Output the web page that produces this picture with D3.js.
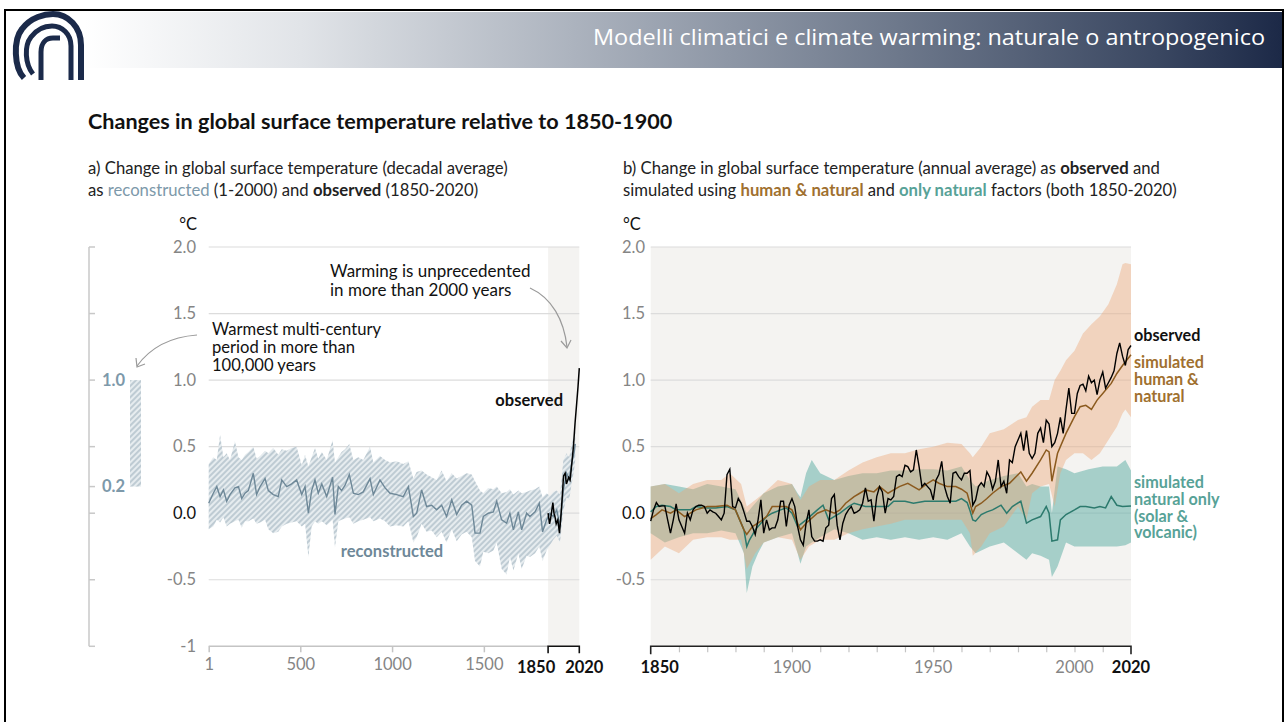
<!DOCTYPE html>
<html><head><meta charset="utf-8">
<script src="https://cdn.jsdelivr.net/npm/d3@7"></script>
<style>body{margin:0;background:#fff;} svg{display:block;font-family:Lato,'Noto Sans',sans-serif;}</style>
</head><body><svg id="c" width="1286" height="722"></svg>
<script>
// ---------------- DATA ----------------
const yTicks = [-1, -0.5, 0, 0.5, 1, 1.5, 2];
const yTickLabels = ["-1", "-0.5", "0.0", "0.5", "1.0", "1.5", "2.0"];
const xTicksA = [1, 500, 1000, 1500];
const xTicksB = [1900, 1950, 2000];
const warmestRange = [0.2, 1.0];

const reconYears = [1,26,45,63,81,99,117,144,163,181,199,217,244,262,281,308,326,353,380,399,426,453,480,508,526,544,562,580,598,617,644,676,689,707,725,744,767,789,816,843,880,898,934,962,989,1025,1061,1089,1116,1134,1161,1188,1216,1243,1270,1297,1325,1352,1379,1406,1434,1452,1479,1497,1524,1552,1570,1597,1624,1642,1661,1688,1706,1733,1751,1779,1802,1820,1842,1860,1878,1897,1915,1933,1951,1965,1978,1991,1998];
const reconMedian = [0.075,0.15,0.2,0.125,0.175,0.09,0.14,0.19,0.2,0.11,0.15,0.17,0.3,0.14,0.2,0.26,0.17,0.14,0.125,0.25,0.2,0.22,0.25,0.14,0.2,0.0,0.17,0.25,0.15,0.22,0.125,0.27,-0.01,0.2,0.17,0.21,0.29,0.15,0.14,0.16,0.26,0.14,0.25,0.19,0.15,0.14,0.125,0.2,-0.025,0.0,0.175,0.05,0.06,0.025,0.06,-0.025,0.1,-0.01,0.06,0.09,0.06,-0.15,-0.15,-0.025,0.0,0.01,0.09,-0.05,-0.075,0.0,-0.125,0.01,-0.125,0.0,-0.025,0.01,0.075,-0.14,-0.05,0.0,-0.025,0.025,-0.1,0.175,0.3,0.25,0.375,0.45,0.52];
const reconUpper = [0.37,0.42,0.40,0.59,0.42,0.45,0.40,0.54,0.42,0.40,0.44,0.46,0.50,0.41,0.43,0.47,0.45,0.49,0.44,0.48,0.47,0.49,0.50,0.36,0.44,0.35,0.42,0.49,0.41,0.46,0.40,0.55,0.38,0.42,0.46,0.48,0.52,0.40,0.42,0.40,0.50,0.38,0.43,0.40,0.38,0.39,0.37,0.39,0.26,0.31,0.32,0.29,0.27,0.25,0.32,0.24,0.30,0.26,0.28,0.30,0.29,0.24,0.17,0.15,0.19,0.18,0.20,0.15,0.16,0.18,0.14,0.17,0.15,0.16,0.17,0.18,0.20,0.12,0.15,0.13,0.16,0.17,0.14,0.40,0.45,0.42,0.52,0.58,0.62];
const reconLower = [-0.12,-0.10,-0.05,-0.07,-0.03,-0.10,-0.08,-0.06,-0.05,-0.11,-0.06,-0.06,-0.04,-0.08,-0.07,-0.05,-0.12,-0.15,-0.14,-0.10,-0.08,-0.07,-0.06,-0.10,-0.08,-0.33,-0.10,-0.06,-0.08,-0.06,-0.09,-0.05,-0.26,-0.06,-0.05,-0.04,-0.03,-0.08,-0.06,-0.05,-0.03,-0.06,-0.04,-0.06,-0.10,-0.09,-0.10,-0.06,-0.22,-0.18,-0.08,-0.14,-0.13,-0.18,-0.14,-0.22,-0.12,-0.21,-0.16,-0.14,-0.18,-0.36,-0.40,-0.29,-0.30,-0.28,-0.22,-0.42,-0.46,-0.33,-0.43,-0.30,-0.42,-0.32,-0.33,-0.30,-0.25,-0.36,-0.28,-0.24,-0.20,-0.17,-0.22,0.02,0.12,0.10,0.22,0.32,0.40];

const obsAYears = [1850,1858,1866,1876,1882,1888,1894,1903,1912,1920,1927,1934,1943,1950,1955,1962,1970,1979,1988,1997,2006,2013,2020];
const obsAValues = [0.0,-0.08,-0.02,0.08,0.0,-0.03,-0.08,-0.05,-0.15,-0.02,0.12,0.28,0.3,0.22,0.24,0.27,0.25,0.37,0.5,0.68,0.83,0.95,1.09];

const obsBStart = 1850;
const obsBValues = [-0.06,0.025,0.08,0.05,0.055,0.055,-0.05,-0.15,-0.05,0.07,
-0.05,-0.1,-0.15,0.0,-0.05,0.025,0.05,0.06,0.06,0.05,
0.0,0.025,0.01,0.0,-0.025,-0.05,0.0,0.29,0.33,0.05,
0.04,0.11,0.075,0.01,-0.06,-0.06,-0.1,-0.16,-0.05,0.1,
-0.15,-0.05,-0.125,-0.11,-0.11,-0.05,0.09,0.09,-0.1,0.06,
0.11,0.05,-0.1,-0.2,-0.24,-0.075,0.025,-0.175,-0.21,-0.21,
-0.2,-0.21,-0.11,-0.09,0.11,0.14,-0.09,-0.2,-0.075,-0.01,
0.025,0.05,0.0,0.01,0.025,0.075,0.19,0.09,0.1,-0.06,
0.125,0.2,0.16,0.0,0.11,0.1,0.125,0.275,0.29,0.275,
0.36,0.35,0.31,0.325,0.475,0.35,0.2,0.225,0.2,0.175,
0.1,0.25,0.29,0.39,0.2,0.125,0.075,0.3,0.31,0.275,
0.25,0.3,0.3,0.32,0.06,0.1,0.2,0.23,0.2,0.31,
0.27,0.18,0.24,0.4,0.2,0.24,0.15,0.4,0.38,0.5,
0.55,0.6,0.47,0.62,0.45,0.41,0.45,0.6,0.64,0.53,
0.7,0.67,0.5,0.53,0.6,0.72,0.6,0.78,0.94,0.75,
0.75,0.9,0.96,0.97,0.92,1.03,0.98,1.0,0.89,1.0,
1.06,0.94,0.98,1.02,1.07,1.2,1.28,1.18,1.11,1.23,
1.26];

const hnYears = [1850,1852,1854,1857,1859,1862,1864,1866,1870,1873,1877,1880,1883,1884,1886,1889,1891,1893,1896,1898,1900,1903,1905,1909,1912,1915,1917,1919,1922,1924,1926,1929,1931,1934,1936,1938,1941,1943,1945,1948,1950,1952,1955,1958,1960,1962,1963,1964,1965,1967,1969,1971,1974,1977,1981,1983,1985,1988,1990,1991,1992,1994,1997,2000,2002,2004,2006,2008,2010,2013,2015,2017,2020];
const hnMedian = [-0.04,-0.01,0.025,0.0,0.025,-0.025,0.0,0.025,0.05,0.05,0.06,0.025,-0.125,-0.16,-0.1,-0.06,-0.025,0.05,0.05,0.05,0.025,-0.125,-0.075,0.0,0.025,0.0,0.025,0.075,0.125,0.15,0.175,0.16,0.2,0.15,0.175,0.2,0.225,0.2,0.175,0.225,0.25,0.225,0.2,0.2,0.18,0.15,0.075,0.0,0.05,0.075,0.11,0.15,0.2,0.225,0.31,0.24,0.3,0.4,0.475,0.46,0.24,0.45,0.6,0.725,0.8,0.81,0.78,0.85,0.9,0.975,1.05,1.11,1.19];

const natYears = [1850,1852,1854,1857,1859,1864,1866,1870,1873,1877,1880,1883,1884,1885,1887,1889,1891,1893,1896,1898,1900,1902,1905,1909,1911,1913,1917,1920,1922,1926,1930,1934,1936,1940,1943,1947,1950,1954,1958,1960,1962,1963,1964,1965,1967,1969,1971,1974,1976,1978,1981,1983,1985,1988,1990,1991,1992,1994,1995,1997,2000,2002,2004,2007,2009,2011,2013,2015,2017,2020];
const natMedian = [0.01,0.05,0.06,0.05,0.025,0.025,0.05,0.04,0.04,0.05,0.025,-0.125,-0.25,-0.2,-0.125,-0.075,-0.025,0.0,0.025,0.04,0.0,-0.1,-0.05,0.025,0.06,-0.05,0.0,0.05,0.075,0.05,0.05,0.05,0.09,0.09,0.075,0.09,0.09,0.09,0.09,0.11,0.08,0.02,-0.05,-0.06,-0.01,0.01,0.025,0.06,0.0,0.05,0.09,-0.075,-0.05,-0.025,0.05,0.0,-0.21,-0.2,-0.05,-0.01,0.025,0.05,0.05,0.04,0.05,0.04,0.125,0.06,0.05,0.055];

const hnBandYears = [1850,1855,1860,1865,1870,1875,1878,1882,1884,1887,1890,1895,1900,1903,1906,1910,1915,1920,1925,1930,1935,1940,1945,1950,1955,1960,1963,1964,1967,1970,1975,1980,1983,1985,1988,1991,1993,1995,1997,2000,2003,2006,2009,2012,2015,2017,2018,2020];
const hnUpper = [0.2,0.22,0.15,0.22,0.25,0.25,0.3,0.22,0.05,0.1,0.15,0.25,0.22,0.1,0.2,0.25,0.25,0.32,0.38,0.42,0.45,0.45,0.48,0.5,0.53,0.52,0.45,0.42,0.5,0.6,0.63,0.7,0.72,0.8,0.85,0.85,1.0,1.07,1.15,1.22,1.35,1.42,1.48,1.57,1.72,1.87,1.88,1.87];
const hnLower = [-0.35,-0.25,-0.3,-0.2,-0.18,-0.18,-0.2,-0.2,-0.42,-0.3,-0.22,-0.18,-0.2,-0.35,-0.25,-0.2,-0.2,-0.15,-0.12,-0.1,-0.08,-0.05,-0.05,-0.05,-0.05,-0.05,-0.15,-0.32,-0.25,-0.15,-0.1,0.05,-0.05,0.15,0.2,0.22,0.05,0.3,0.4,0.45,0.45,0.4,0.45,0.55,0.65,0.75,0.78,0.72];

const natBandYears = [1850,1855,1860,1865,1870,1875,1880,1883,1884,1886,1888,1890,1895,1900,1902,1903,1905,1907,1910,1915,1920,1925,1930,1935,1940,1945,1950,1955,1960,1963,1965,1970,1975,1980,1983,1985,1988,1991,1992,1994,1997,2000,2005,2010,2015,2018,2020];
const natUpper = [0.2,0.22,0.2,0.18,0.22,0.2,0.18,0.05,0.0,0.05,0.1,0.15,0.2,0.22,0.15,0.12,0.3,0.4,0.3,0.25,0.28,0.3,0.3,0.32,0.32,0.33,0.33,0.32,0.35,0.25,0.2,0.25,0.28,0.3,0.2,0.22,0.2,0.2,0.0,0.35,0.33,0.3,0.33,0.35,0.35,0.4,0.32];
const natLower = [-0.15,-0.22,-0.18,-0.15,-0.15,-0.13,-0.15,-0.3,-0.6,-0.4,-0.3,-0.22,-0.18,-0.15,-0.3,-0.38,-0.25,-0.22,-0.18,-0.12,-0.15,-0.2,-0.18,-0.2,-0.18,-0.2,-0.18,-0.2,-0.15,-0.25,-0.3,-0.25,-0.22,-0.3,-0.35,-0.3,-0.32,-0.35,-0.48,-0.4,-0.22,-0.25,-0.25,-0.25,-0.25,-0.24,-0.22];

// ---------------- STYLE ----------------
const C = {
  recon: "#6e8898", reconText: "#7d99aa", hatchBg: "#e6ecef", hatchLine: "#b4c3cc",
  brown: "#8b5a1e", brownText: "#a0702f", teal: "#2c7a6d", tealText: "#57a297",
  peach: "rgba(236,168,118,0.42)", tealBand: "rgba(88,172,162,0.5)",
  grid: "#dcdcdc", tick: "#858585", plotBg: "#f4f3f1"
};

const svg = d3.select("#c");
const defs = svg.append("defs");

// header gradient
const grad = defs.append("linearGradient").attr("id", "hdr").attr("x1", 0).attr("x2", 1).attr("y1", 0).attr("y2", 0);
[[0, "#ffffff"], [0.06, "#ffffff"], [0.23, "#e1e4e8"], [0.5, "#9ea6b3"], [0.7, "#6d788b"], [0.9, "#3b4862"], [1, "#1c2947"]]
  .forEach(([o, c]) => grad.append("stop").attr("offset", o).attr("stop-color", c));

// hatch pattern
const pat = defs.append("pattern").attr("id", "hatch").attr("patternUnits", "userSpaceOnUse")
  .attr("width", 4).attr("height", 4).attr("patternTransform", "rotate(45)");
pat.append("rect").attr("width", 4).attr("height", 4).attr("fill", C.hatchBg);
pat.append("line").attr("x1", 1).attr("x2", 1).attr("y1", 0).attr("y2", 4).attr("stroke", C.hatchLine).attr("stroke-width", 1.6);

// frame and header
svg.append("rect").attr("x", 8).attr("y", 12).attr("width", 1274).attr("height", 56).attr("fill", "url(#hdr)");
svg.append("path").attr("d", "M5,740 V10 H1283 V740").attr("fill", "none").attr("stroke", "#000").attr("stroke-width", 2);

// logo
const logo = svg.append("g").attr("fill", "none").attr("stroke", "#1b2a4a").attr("stroke-linecap", "butt");
logo.append("path").attr("d", "M24,78 C14,68 13,40 22,29 C31,17 45,14 53,14 C68,14 81,27 81,45 L81,80").attr("stroke-width", 6);
logo.append("path").attr("d", "M33,74 C25,64 24,46 31,37 C37,29 45,26 52,26 C62,26 71,34 71,46 L71,80").attr("stroke-width", 5);
logo.append("path").attr("d", "M41,80 L41,52 C41,43 46,38 53,38 L60,38").attr("stroke-width", 5);

svg.append("text").attr("x", 1265).attr("y", 45).attr("text-anchor", "end")
  .attr("font-family", "'Open Sans','Noto Sans',sans-serif").attr("font-size", 22.5).attr("fill", "#fff")
  .attr("textLength", 672).attr("lengthAdjust", "spacingAndGlyphs")
  .text("Modelli climatici e climate warming: naturale o antropogenico");

// titles
svg.append("text").attr("x", 88).attr("y", 129).attr("font-size", 21.6).attr("font-weight", 700).attr("fill", "#111")
  .text("Changes in global surface temperature relative to 1850-1900");

function rich(x, y, parts) {
  const t = svg.append("text").attr("x", x).attr("y", y).attr("font-size", 16.7).attr("fill", "#222");
  parts.forEach(p => {
    const s = t.append("tspan").text(p[0]);
    if (p[1]) s.attr("fill", p[1]);
    if (p[2]) s.attr("font-weight", p[2]);
  });
  return t;
}
rich(88, 174, [["a) Change in global surface temperature (decadal average)"]]);
rich(88, 196, [["as "], ["reconstructed", C.reconText], [" (1-2000) and "], ["observed", null, 700], [" (1850-2020)"]]);
rich(623, 174, [["b) Change in global surface temperature (annual average) as "], ["observed", null, 700], [" and"]]);
rich(623, 196, [["simulated using "], ["human & natural", C.brownText, 700], [" and "], ["only natural", C.tealText, 700], [" factors (both 1850-2020)"]]);

// ---------------- SCALES ----------------
const y = d3.scaleLinear().domain([-1, 2]).range([646.3, 247]);
const xa = d3.scaleLinear().domain([1, 2020]).range([208.7, 579.3]);
const xb = d3.scaleLinear().domain([1850, 2020]).range([650.7, 1131]);

// ---------------- PANEL A ----------------
const pa = svg.append("g");
pa.append("rect").attr("x", xa(1850)).attr("y", y(2)).attr("width", xa(2020) - xa(1850)).attr("height", y(-1) - y(2)).attr("fill", C.plotBg);
pa.selectAll(".ga").data(yTicks.filter(d => d > -1)).enter().append("line")
  .attr("x1", xa(1)).attr("x2", xa(2020)).attr("y1", d => y(d)).attr("y2", d => y(d)).attr("stroke", C.grid).attr("stroke-width", 1.2);
pa.selectAll(".la").data(yTicks).enter().append("text")
  .attr("x", 196).attr("y", d => y(d) + 5.5).attr("text-anchor", "end").attr("font-size", 16.5)
  .attr("fill", d => d === 0 ? "#111" : C.tick).text((d, i) => yTickLabels[i]);
pa.append("text").attr("x", 197).attr("y", 230).attr("text-anchor", "end").attr("font-size", 16.5).attr("fill", "#111").text("°C");

const recon = reconYears.map((yr, i) => ({ yr, m: reconMedian[i], hi: reconUpper[i], lo: reconLower[i] }));
pa.append("path").datum(recon).attr("fill", "url(#hatch)")
  .attr("d", d3.area().x(d => xa(d.yr)).y0(d => y(d.lo)).y1(d => y(d.hi)));
pa.append("path").datum(recon).attr("fill", "none").attr("stroke", C.recon).attr("stroke-width", 1.4)
  .attr("d", d3.line().x(d => xa(d.yr)).y(d => y(d.m)));
const obsA = obsAYears.map((yr, i) => ({ yr, v: obsAValues[i] }));
pa.append("path").datum(obsA).attr("fill", "none").attr("stroke", "#000").attr("stroke-width", 1.5)
  .attr("d", d3.line().x(d => xa(d.yr)).y(d => y(d.v)));

// x axis panel a
pa.append("line").attr("x1", xa(1)).attr("x2", xa(1850)).attr("y1", y(-1)).attr("y2", y(-1)).attr("stroke", "#c4c4c4").attr("stroke-width", 1.5);
const axA = pa.append("g").attr("transform", `translate(0,${y(-1)})`)
  .call(d3.axisBottom(xa).tickValues(xTicksA).tickSize(6).tickPadding(6).tickFormat(d3.format("d")));
axA.select(".domain").remove();
axA.selectAll("line").attr("stroke", "#c4c4c4").attr("stroke-width", 1.5);
axA.selectAll("text").attr("font-family", "Lato").attr("font-size", 16.5).attr("fill", C.tick);
pa.append("path").attr("d", `M${xa(1850)},${y(-1) + 7} V${y(-1)} H${xa(2020)} V${y(-1) + 7}`)
  .attr("fill", "none").attr("stroke", "#111").attr("stroke-width", 1.6);
pa.append("text").attr("x", xa(1850) - 12).attr("y", y(-1) + 27).attr("text-anchor", "middle").attr("font-size", 16.5).attr("font-weight", 700).attr("fill", "#111").text("1850");
pa.append("text").attr("x", xa(2020) + 5).attr("y", y(-1) + 27).attr("text-anchor", "middle").attr("font-size", 16.5).attr("font-weight", 700).attr("fill", "#111").text("2020");

// mini axis (warmest multi-century period)
const miniX = 89;
pa.append("line").attr("x1", miniX).attr("x2", miniX).attr("y1", y(2)).attr("y2", y(-1)).attr("stroke", "#c8c8c8").attr("stroke-width", 1.5);
pa.selectAll(".mt").data([-1, -0.5, 0, 0.2, 0.5, 1, 1.5, 2]).enter().append("line")
  .attr("x1", miniX).attr("x2", miniX + 6).attr("y1", d => y(d)).attr("y2", d => y(d)).attr("stroke", "#c8c8c8").attr("stroke-width", 1.5);
pa.append("rect").attr("x", 130).attr("width", 11).attr("y", y(warmestRange[1])).attr("height", y(warmestRange[0]) - y(warmestRange[1])).attr("fill", "url(#hatch)");
pa.selectAll(".ml").data(warmestRange).enter().append("text")
  .attr("x", 125).attr("y", d => y(d) + 5.5).attr("text-anchor", "end").attr("font-size", 16.5).attr("font-weight", 700)
  .attr("fill", C.reconText).text(d => d.toFixed(1));

// annotations
["Warmest multi-century", "period in more than", "100,000 years"].forEach((s, i) =>
  pa.append("text").attr("font-size", 16.6).attr("fill", "#111").attr("x", 212).attr("y", 335 + i * 18.2).text(s));
["Warming is unprecedented", "in more than 2000 years"].forEach((s, i) =>
  pa.append("text").attr("font-size", 17).attr("fill", "#111").attr("x", 330).attr("y", 277 + i * 19).text(s));
function arrow(d, dir) {
  pa.append("path").attr("d", d).attr("fill", "none").attr("stroke", "#9a9a9a").attr("stroke-width", 1.2);
  pa.append("path").attr("d", dir).attr("fill", "none").attr("stroke", "#9a9a9a").attr("stroke-width", 1.2);
}
arrow("M197,335 C170,337 150,348 137,366", "M136,358 L137,367 L145,364");
arrow("M530,288 C552,298 564,320 567,347", "M561,341 L567,348 L571,340");
pa.append("text").attr("x", 563).attr("y", 406).attr("text-anchor", "end").attr("font-size", 16.5).attr("font-weight", 700).attr("fill", "#111").text("observed");
pa.append("text").attr("x", 392).attr("y", 557).attr("text-anchor", "middle").attr("font-size", 16.5).attr("font-weight", 700).attr("fill", C.recon).text("reconstructed");

// ---------------- PANEL B ----------------
const pb = svg.append("g");
pb.append("rect").attr("x", xb(1850)).attr("y", y(2)).attr("width", xb(2020) - xb(1850)).attr("height", y(-1) - y(2)).attr("fill", C.plotBg);
pb.selectAll(".gb").data(yTicks.filter(d => d > -1)).enter().append("line")
  .attr("x1", xb(1850)).attr("x2", xb(2020)).attr("y1", d => y(d)).attr("y2", d => y(d)).attr("stroke", C.grid).attr("stroke-width", 1.2);
pb.selectAll(".lb").data(yTicks.filter(d => d > -1)).enter().append("text")
  .attr("x", 645).attr("y", d => y(d) + 5.5).attr("text-anchor", "end").attr("font-size", 16.5)
  .attr("fill", d => d === 0 ? "#111" : C.tick).text(d => yTickLabels[yTicks.indexOf(d)]);
pb.append("text").attr("x", 623).attr("y", 230).attr("font-size", 16.5).attr("fill", "#111").text("°C");

const natBand = natBandYears.map((yr, i) => ({ yr, hi: natUpper[i], lo: natLower[i] }));
const hnBand = hnBandYears.map((yr, i) => ({ yr, hi: hnUpper[i], lo: hnLower[i] }));
const band = d3.area().x(d => xb(d.yr)).y0(d => y(d.lo)).y1(d => y(d.hi));
pb.append("path").datum(natBand).attr("fill", C.tealBand).attr("d", band);
pb.append("path").datum(hnBand).attr("fill", C.peach).attr("d", band);

const nat = natYears.map((yr, i) => ({ yr, v: natMedian[i] }));
const hn = hnYears.map((yr, i) => ({ yr, v: hnMedian[i] }));
const obsB = obsBValues.map((v, i) => ({ yr: obsBStart + i, v }));
const ln = d3.line().x(d => xb(d.yr)).y(d => y(d.v));
pb.append("path").datum(nat).attr("fill", "none").attr("stroke", C.teal).attr("stroke-width", 1.5).attr("d", ln);
pb.append("path").datum(hn).attr("fill", "none").attr("stroke", C.brown).attr("stroke-width", 1.5).attr("d", ln);
pb.append("path").datum(obsB).attr("fill", "none").attr("stroke", "#000").attr("stroke-width", 1.4).attr("d", ln);

// x axis panel b
const axB = pb.append("g").attr("transform", `translate(0,${y(-1)})`)
  .call(d3.axisBottom(xb).tickValues(d3.range(1860, 2020, 10)).tickSize(6).tickFormat(""));
axB.select(".domain").remove();
axB.selectAll("line").attr("stroke", "#c4c4c4").attr("stroke-width", 1.2);
pb.append("path").attr("d", `M${xb(1850)},${y(-1) + 8} V${y(-1)} H${xb(2020)} V${y(-1) + 8}`)
  .attr("fill", "none").attr("stroke", "#222").attr("stroke-width", 1.6);
pb.selectAll(".xl").data(xTicksB).enter().append("text")
  .attr("x", d => xb(d)).attr("y", y(-1) + 27).attr("text-anchor", "middle").attr("font-size", 16.5).attr("fill", C.tick).text(d => d);
pb.append("text").attr("x", xb(1850) + 9).attr("y", y(-1) + 27).attr("text-anchor", "middle").attr("font-size", 16.5).attr("font-weight", 700).attr("fill", "#111").text("1850");
pb.append("text").attr("x", xb(2020)).attr("y", y(-1) + 27).attr("text-anchor", "middle").attr("font-size", 16.5).attr("font-weight", 700).attr("fill", "#111").text("2020");

// right labels
function block(lines, y0, color) {
  lines.forEach((s, i) => pb.append("text").attr("font-size", 16.2).attr("font-weight", 700).attr("fill", color)
    .attr("x", 1134).attr("y", y0 + i * 16.8).text(s));
}
block(["observed"], 341, "#111");
block(["simulated", "human &", "natural"], 368, C.brownText);
block(["simulated", "natural only", "(solar &", "volcanic)"], 488, C.tealText);
</script></body></html>
